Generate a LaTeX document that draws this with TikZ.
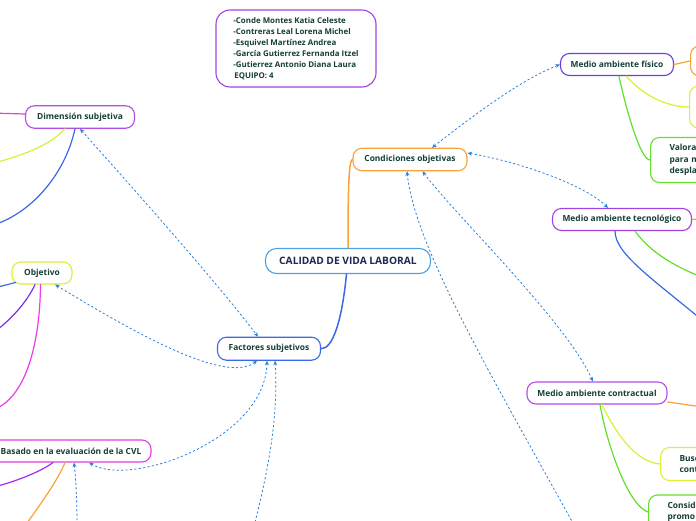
\documentclass[tikz,border=0pt]{standalone}
\usepackage{fontspec}
\setmainfont{Open Sans}
\usetikzlibrary{arrows.meta}
\definecolor{txt}{HTML}{153F37}
\definecolor{navy}{HTML}{1C2A50}
\definecolor{skyb}{HTML}{4DA2E2}
\definecolor{orng}{HTML}{F8A23A}
\definecolor{royal}{HTML}{3A69E8}
\definecolor{violet}{HTML}{B54CE6}
\definecolor{yel}{HTML}{DCEE35}
\definecolor{mag}{HTML}{E23FDE}
\definecolor{indig}{HTML}{6A40E2}
\definecolor{purp}{HTML}{A043E4}
\definecolor{grn}{HTML}{62E02C}
\definecolor{dashc}{HTML}{2C80E0}
\definecolor{bviol}{HTML}{7A2EF0}
\definecolor{pmag}{HTML}{EE3AEE}
\definecolor{purl}{HTML}{A22EF0}
\tikzset{
  box/.style={draw, fill=white, rounded corners=9pt, line width=1.1pt,
    font=\bfseries\fontsize{8.4}{11.5}\selectfont, text=txt, inner sep=0pt, align=center},
  clip box/.style={box, anchor=west, text width=60pt, align=left, inner xsep=19pt},
  branch/.style={line width=1.2pt, line cap=round},
  rel/.style={draw=dashc, line width=0.8pt, dash pattern=on 2.2pt off 2.2pt,
    >={Stealth[length=4.5pt,width=4pt]}}
}
\begin{document}
\begin{tikzpicture}[x=1pt,y=-1pt]
\useasboundingbox (0,0) rectangle (696,520);
\clip (0,0) rectangle (696,520);
\fill[white] (0,0) rectangle (696,520);

% off-canvas coordinates
\coordinate (dimM) at (-10,113);
\coordinate (dimY) at (-10,164);
\coordinate (dimB) at (-10,226);
\coordinate (objB) at (-10,289);
\coordinate (objV) at (-10,335);
\coordinate (objM) at (-8,410);
\coordinate (basP) at (-10,488);
\coordinate (basO) at (22,530);
\coordinate (basD) at (77,530);
\coordinate (factD) at (253,530);
\coordinate (condD) at (585,545);
\coordinate (tecG) at (715,282);
\coordinate (tecB) at (720,335);
\coordinate (conO) at (710,408);

% main nodes
\node[box, draw=skyb, rounded corners=11pt, minimum width=165pt, minimum height=25pt,
  font=\bfseries\fontsize{10.2}{12}\selectfont, text=navy] (main) at (348,261) {CALIDAD DE VIDA LABORAL};
\node[box, draw=orng, minimum width=114pt, minimum height=22.5pt] (cond) at (410,159.5) {Condiciones objetivas};
\node[box, draw=royal, minimum width=103pt, minimum height=23pt] (fact) at (269,348.7) {Factores subjetivos};
\node[box, draw=violet, minimum width=109pt, minimum height=22.5pt] (dim) at (80,117) {Dimensión subjetiva};
\node[box, draw=yel, minimum width=60pt, minimum height=22pt] (obj) at (42,273) {Objetivo};
\node[box, draw=mag, minimum width=160pt, minimum height=22pt] (bas) at (71,451) {Basado en la evaluación de la CVL};
\node[box, draw=indig, minimum width=113pt, minimum height=22pt] (fis) at (617,64.5) {Medio ambiente físico};
\node[box, draw=purp, minimum width=139pt, minimum height=22pt] (tec) at (622,219.5) {Medio ambiente tecnológico};
\node[box, draw=violet, minimum width=140pt, minimum height=22pt] (con) at (597,393) {Medio ambiente contractual};

% team box
\node[draw=purp, fill=white, rounded corners=14pt, line width=1.1pt, minimum width=160pt,
  minimum height=77pt, align=left, inner sep=0pt, text=txt,
  font=\bfseries\fontsize{7.9}{11}\selectfont] (team) at (296,48.5)
  {-Conde Montes Katia Celeste\\-Contreras Leal Lorena Michel\\-Esquivel Martínez Andrea\\-García Gutierrez Fernanda Itzel\\-Gutierrez Antonio Diana Laura\\\hspace{1pt}EQUIPO: 4};

% partially visible nodes on the right edge
\node[box, draw=orng, anchor=west, minimum width=70pt, minimum height=30pt] (fo) at (690,61) {};
\node[box, draw=yel, anchor=west, minimum width=70pt, minimum height=42pt] (fy) at (689,107) {};
\node[clip box, draw=grn, minimum height=45pt] (fg) at (650,160) {Valora\\para m\\despla};
\node[box, draw=orng, anchor=west, minimum width=70pt, minimum height=24pt] (to) at (698,219) {};
\node[clip box, draw=yel, minimum height=33pt] (yc) at (660,464) {Busc\\cont};
\node[clip box, draw=grn, minimum height=34pt] (gc) at (648,512) {Conside\\promo};

% main branches
\draw[branch, orng, line width=1.5pt] (main.north) .. controls (348,185) and (349,160) .. (cond.west);
\draw[branch, royal, line width=1.5pt] ([xshift=-1.5pt]main.south) .. controls (342,320) and (333,349) .. (fact.east);

% left branches
\draw[branch, mag] ([yshift=3pt]dim.west) -- (dimM);
\draw[branch, yel] ([xshift=-15pt]dim.south) .. controls (50,145) and (25,155) .. (dimY);
\draw[branch, royal] ([xshift=-5pt]dim.south) .. controls (65,175) and (30,215) .. (dimB);
\draw[branch, royal] ([xshift=4pt,yshift=2pt]obj.south west) -- (objB);
\draw[branch, bviol] ([xshift=-7pt]obj.south) .. controls (28,300) and (12,320) .. (objV);
\draw[branch, pmag] ([xshift=-1.5pt]obj.south) .. controls (40,345) and (25,400) .. (objM);
\draw[branch, purl] ([xshift=-18pt]bas.south) .. controls (40,472) and (15,482) .. (basP);
\draw[branch, orng] ([xshift=-6pt]bas.south) .. controls (58,480) and (40,505) .. (basO);

% right branches
\draw[branch, orng] (fis.east) -- (fo.west);
\draw[branch, yel] ([xshift=9pt]fis.south) .. controls (645,97) and (668,107) .. (fy.west);
\draw[branch, grn] ([xshift=2pt]fis.south) .. controls (625,105) and (640,160) .. (fg.west);
\draw[branch, orng] (tec.east) -- (to.west);
\draw[branch, grn] ([xshift=13pt]tec.south) .. controls (650,252) and (675,268) .. (tecG);
\draw[branch, royal] ([xshift=-7pt]tec.south) .. controls (615,255) and (655,280) .. (tecB);
\draw[branch, orng] ([yshift=-9pt]con.east) -- (conO);
\draw[branch, yel] ([xshift=5pt]con.south) .. controls (615,432) and (635,462) .. (yc.west);
\draw[branch, grn] ([xshift=3pt]con.south) .. controls (607,445) and (628,505) .. (gc.west);

% relationships
\draw[rel, <->] ([xshift=22pt]cond.north) .. controls (470,118) and (520,80) .. (fis.west);
\draw[rel, <->] ([yshift=6.5pt]cond.east) .. controls (520,162) and (585,185) .. ([xshift=-14pt]tec.north);
\draw[rel, <->] ([xshift=12.5pt]cond.south) .. controls (455,215) and (565,320) .. ([xshift=-4pt]con.north);
\draw[rel, <-] ([xshift=-3pt]cond.south) .. controls (415,250) and (500,390) .. (condD);
\draw[rel, <->] (dim.south) .. controls (130,185) and (215,280) .. ([xshift=-11pt]fact.north);
\draw[rel, <->] ([xshift=13pt]obj.south) .. controls (130,330) and (225,385) .. ([xshift=-12pt]fact.south);
\draw[rel, <->] ([xshift=18pt]bas.south) .. controls (130,488) and (265,440) .. ([xshift=-2pt]fact.south);
\draw[rel, <-] ([xshift=6pt]fact.south) .. controls (279,420) and (266,480) .. (factD);
\draw[rel, <-] ([xshift=3pt]bas.south) .. controls (76,480) and (77,500) .. (basD);
\end{tikzpicture}
\end{document}
